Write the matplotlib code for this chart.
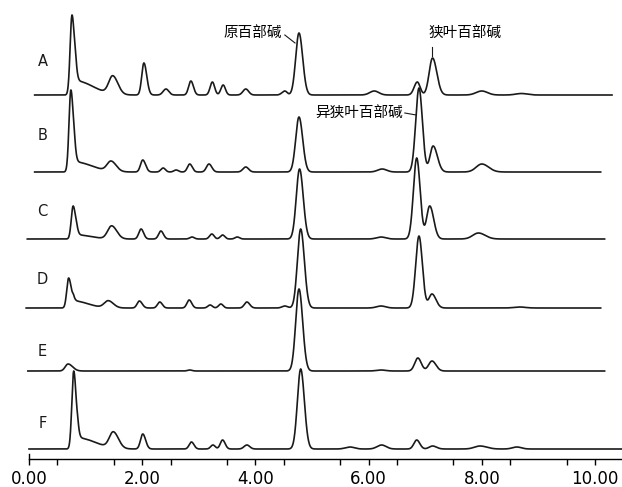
import numpy as np
import matplotlib
matplotlib.use('Agg')
import matplotlib.pyplot as plt

# trace labels and baselines (image rows counted from the bottom)
labels = ['A', 'B', 'C', 'D', 'E', 'F']
baselines = [392, 315, 248, 179, 116, 38]
label_y = [426, 351, 275, 208, 135, 64]
t_start = [0.10, 0.10, -0.03, -0.05, -0.02, 0.0]
t_end = [10.3, 10.1, 10.17, 10.1, 10.17, 10.47]

# peak tables: (retention time, height, sigma left, sigma right)
peaks_A = [(0.76, 80, 0.033, 0.045), (0.83, 14, 0.02, 0.30), (1.48, 18, 0.07, 0.09),
           (2.03, 32, 0.038, 0.05), (2.42, 6, 0.05, 0.05), (2.86, 14, 0.04, 0.045),
           (3.24, 13, 0.04, 0.04), (3.43, 10, 0.04, 0.04), (3.83, 6, 0.05, 0.05),
           (4.52, 4, 0.05, 0.04), (4.77, 62, 0.058, 0.065), (6.10, 4, 0.08, 0.08),
           (6.86, 13, 0.055, 0.05), (7.13, 37, 0.06, 0.075), (8.00, 4, 0.1, 0.1),
           (8.70, 1.5, 0.1, 0.1)]
peaks_B = [(0.74, 82, 0.033, 0.045), (0.81, 10, 0.02, 0.30), (1.45, 10, 0.07, 0.09),
           (2.01, 12, 0.04, 0.05), (2.37, 4, 0.04, 0.04), (2.60, 2, 0.04, 0.04),
           (2.84, 8, 0.04, 0.045), (3.18, 8, 0.045, 0.05), (3.83, 5, 0.05, 0.05),
           (4.77, 55, 0.058, 0.065), (6.24, 3, 0.08, 0.08), (6.89, 84, 0.058, 0.06),
           (7.14, 26, 0.055, 0.075), (8.00, 8, 0.1, 0.12)]
peaks_C = [(0.78, 33, 0.033, 0.045), (0.85, 4, 0.02, 0.25), (1.46, 13, 0.07, 0.09),
           (1.98, 10, 0.04, 0.045), (2.33, 8, 0.04, 0.045), (2.88, 2, 0.04, 0.04),
           (3.23, 5, 0.04, 0.04), (3.42, 4, 0.04, 0.04), (3.68, 2, 0.04, 0.04),
           (4.78, 70, 0.058, 0.065), (6.22, 2, 0.08, 0.08), (6.85, 81, 0.058, 0.06),
           (7.08, 33, 0.055, 0.07), (7.94, 6, 0.1, 0.12)]
peaks_D = [(0.70, 30, 0.033, 0.05), (0.79, 7, 0.02, 0.25), (1.40, 7, 0.07, 0.09),
           (1.95, 7, 0.04, 0.05), (2.31, 6, 0.04, 0.045), (2.83, 8, 0.04, 0.045),
           (3.20, 3, 0.04, 0.04), (3.39, 4, 0.04, 0.04), (3.85, 6, 0.045, 0.05),
           (4.52, 2, 0.05, 0.05), (4.80, 79, 0.058, 0.065), (6.22, 2, 0.08, 0.08),
           (6.89, 72, 0.058, 0.06), (7.12, 14, 0.055, 0.07), (8.67, 1, 0.1, 0.1)]
peaks_E = [(0.69, 7, 0.05, 0.08), (2.84, 1, 0.04, 0.04), (4.77, 82, 0.058, 0.065),
           (6.22, 1, 0.08, 0.08), (6.87, 13, 0.055, 0.06), (7.12, 10, 0.06, 0.07)]
peaks_F = [(0.79, 78, 0.033, 0.045), (0.87, 11, 0.02, 0.30), (1.49, 16, 0.07, 0.09),
           (2.01, 15, 0.04, 0.05), (2.87, 7, 0.04, 0.045), (3.25, 4, 0.04, 0.04),
           (3.42, 9, 0.04, 0.045), (3.85, 4, 0.05, 0.05), (4.80, 80, 0.058, 0.065),
           (5.67, 2, 0.08, 0.08), (6.23, 4, 0.08, 0.08), (6.85, 9, 0.05, 0.055),
           (7.13, 3, 0.06, 0.07), (7.97, 3, 0.1, 0.12), (8.62, 2, 0.08, 0.08)]
peak_tables = [peaks_A, peaks_B, peaks_C, peaks_D, peaks_E, peaks_F]

tick_vals = [0, 2, 4, 6, 8, 10]
tick_labels = ['0.00', '2.00', '4.00', '6.00', '8.00', '10.00']


def trace(t, table):
    y = np.zeros_like(t)
    for t0, h, sl, sr in table:
        s = np.where(t < t0, sl, sr)
        y += h * np.exp(-0.5 * ((t - t0) / s) ** 2)
    return y


fig = plt.figure(figsize=(6.22, 4.87), dpi=100)
ax = fig.add_axes([0, 0, 1, 1])
px = 56.6  # pixels per minute
ax.set_xlim(-29 / px, (622 - 29) / px)
ax.set_ylim(0, 487)

for lab, base, ly, t0, t1, table in zip(labels, baselines, label_y, t_start, t_end, peak_tables):
    t = np.linspace(t0, t1, 3000)
    ax.plot(t, base + trace(t, table), color='#1a1a1a', lw=1.2)
    ax.text(0.24, ly, lab, fontsize=10.5, ha='center', va='center', color='#1a1a1a')

cjk = ['Noto Sans CJK SC', 'DejaVu Sans']
ax.text(3.96, 454, '原百部碱', fontsize=10.5, family=cjk, ha='center', va='center')
ax.plot([4.52, 4.70], [452, 444], color='#1a1a1a', lw=0.8)
ax.text(7.70, 454, '狭叶百部碱', fontsize=10.5, family=cjk, ha='center', va='center')
ax.plot([7.12, 7.12], [440, 431], color='#1a1a1a', lw=0.8)
ax.text(5.83, 374, '异狭叶百部碱', fontsize=10.5, family=cjk, ha='center', va='center')
ax.plot([6.64, 6.84], [374, 372], color='#1a1a1a', lw=0.8)

for side in ['left', 'right', 'top']:
    ax.spines[side].set_visible(False)
ax.spines['bottom'].set_position(('data', 28))
ax.spines['bottom'].set_bounds(0, (622 - 29) / px)
ax.spines['bottom'].set_linewidth(1.0)
ax.set_yticks([])
ax.set_xticks(tick_vals)
ax.set_xticklabels(tick_labels, fontsize=12)
ax.set_xticks(np.arange(0.5, 10.5, 1.0), minor=True)
ax.tick_params(axis='x', which='both', direction='out', length=4, width=1.0, pad=4)
ax.plot([0, 0], [28, 33], color='black', lw=1.0)

fig.savefig('out.png', dpi=100)
